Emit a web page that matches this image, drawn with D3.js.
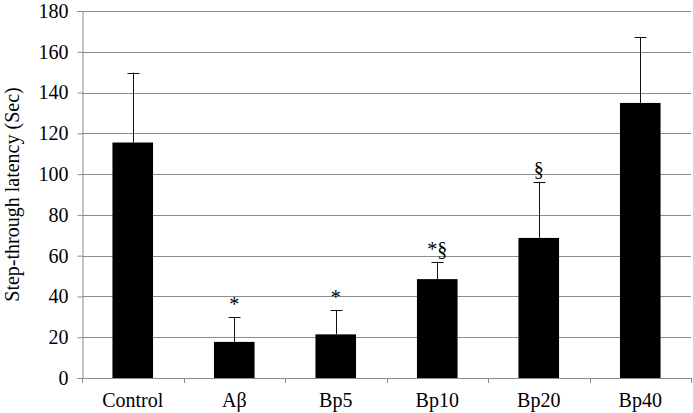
<!DOCTYPE html>
<html>
<head>
<meta charset="utf-8">
<script src="https://cdn.jsdelivr.net/npm/d3@7"></script>
<style>
  body { margin: 0; background: #fff; }
</style>
</head>
<body>
<div id="chart"></div>
<script>
const width = 693;
const height = 413;
const margin = { top: 11, right: 2, bottom: 35, left: 82 };
const serif = "Liberation Serif";

const groups = ["Control", "Aβ", "Bp5", "Bp10", "Bp20", "Bp40"];
const means = [115.5, 17.7, 21.4, 48.5, 68.7, 134.9];
const errors = [34.3, 12.1, 12.0, 8.5, 27.5, 32.3];
const marks = ["", "*", "*", "*§", "§", ""];
const yTicks = [0, 20, 40, 60, 80, 100, 120, 140, 160, 180];

const svg = d3.select("#chart")
    .append("svg")
    .attr("width", width)
    .attr("height", height)
    .attr("font-family", serif);

const x = d3.scaleBand()
    .domain(groups)
    .range([margin.left, width - margin.right])
    .paddingInner(0.6)
    .paddingOuter(0.3);

const y = d3.scaleLinear()
    .domain([0, 180])
    .range([height - margin.bottom, margin.top]);

// gridlines
svg.append("g")
    .selectAll("line")
    .data(yTicks.slice(1))
    .enter().append("line")
    .attr("x1", margin.left)
    .attr("x2", width - margin.right)
    .attr("y1", d => Math.round(y(d)) + 0.5)
    .attr("y2", d => Math.round(y(d)) + 0.5)
    .style("stroke", "#8c8c8c")
    .style("stroke-width", 1);

// y axis
const yAxis = svg.append("g")
    .attr("transform", `translate(${margin.left + 0.5},0)`)
    .call(d3.axisLeft(y).tickValues(yTicks).tickSize(5).tickPadding(9))
    .attr("font-family", serif)
    .attr("font-size", 20);
yAxis.select(".domain").style("stroke", "#8c8c8c");
yAxis.selectAll(".tick line").style("stroke", "#8c8c8c");
yAxis.selectAll(".tick text").attr("fill", "#000");

// x axis
const bounds = d3.range(groups.length + 1).map(i => margin.left + i * x.step());
const xg = svg.append("g");
xg.append("line")
    .attr("x1", margin.left)
    .attr("x2", width - margin.right)
    .attr("y1", Math.round(y(0)) + 0.5)
    .attr("y2", Math.round(y(0)) + 0.5)
    .style("stroke", "#8c8c8c");
xg.selectAll(".xtick")
    .data(bounds)
    .enter().append("line")
    .attr("class", "xtick")
    .attr("x1", d => Math.round(d) + 0.5)
    .attr("x2", d => Math.round(d) + 0.5)
    .attr("y1", y(0))
    .attr("y2", y(0) + 5)
    .style("stroke", "#8c8c8c");
xg.selectAll(".xlabel")
    .data(groups)
    .enter().append("text")
    .attr("class", "xlabel")
    .attr("x", d => x(d) + x.bandwidth() / 2)
    .attr("y", y(0) + 29)
    .attr("text-anchor", "middle")
    .attr("font-family", serif)
    .attr("font-size", 20)
    .text(d => d);

// bars
svg.append("g")
    .selectAll("rect")
    .data(groups)
    .enter().append("rect")
    .attr("x", d => x(d))
    .attr("width", x.bandwidth())
    .attr("y", (d, i) => y(means[i]))
    .attr("height", (d, i) => y(0) - y(means[i]))
    .style("fill", "#000");

// error bars (upper only)
const eb = svg.append("g")
    .selectAll("g")
    .data(groups)
    .enter().append("g");
eb.append("line")
    .attr("x1", d => Math.round(x(d) + x.bandwidth() / 2) + 0.5)
    .attr("x2", d => Math.round(x(d) + x.bandwidth() / 2) + 0.5)
    .attr("y1", (d, i) => y(means[i]))
    .attr("y2", (d, i) => y(means[i] + errors[i]))
    .style("stroke", "#111");
eb.append("line")
    .attr("x1", d => Math.round(x(d) + x.bandwidth() / 2) - 5.5)
    .attr("x2", d => Math.round(x(d) + x.bandwidth() / 2) + 6.5)
    .attr("y1", (d, i) => Math.round(y(means[i] + errors[i])) + 0.5)
    .attr("y2", (d, i) => Math.round(y(means[i] + errors[i])) + 0.5)
    .style("stroke", "#111");

// significance marks
svg.append("g")
    .selectAll("text")
    .data(groups)
    .enter().append("text")
    .attr("x", d => x(d) + x.bandwidth() / 2)
    .attr("y", (d, i) => y(means[i] + errors[i]) - 6)
    .attr("text-anchor", "middle")
    .attr("font-family", serif)
    .attr("font-size", 20)
    .text((d, i) => marks[i]);

// y label
svg.append("text")
    .attr("transform", `translate(19,${(margin.top + height - margin.bottom) / 2}) rotate(-90)`)
    .attr("text-anchor", "middle")
    .attr("font-family", serif)
    .attr("font-size", 20)
    .text("Step-through latency (Sec)");
</script>
</body>
</html>
